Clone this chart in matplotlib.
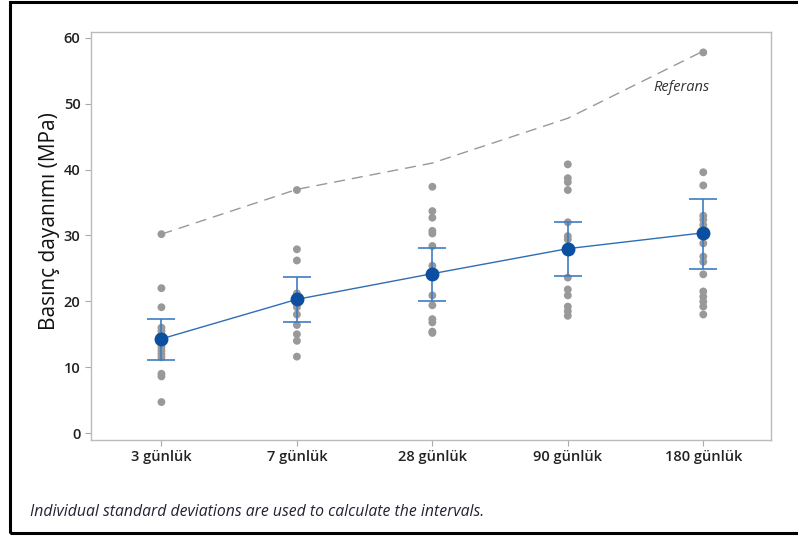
import numpy as np
import matplotlib
matplotlib.use("Agg")
import matplotlib.pyplot as plt
from matplotlib.patches import Rectangle

plt.rcParams['font.family'] = ['Open Sans', 'DejaVu Sans']

# veriler
categories = ["3 günlük", "7 günlük", "28 günlük", "90 günlük", "180 günlük"]
g3 = [30.2, 22.0, 19.1, 16.0, 15.5, 15.0, 14.5, 14.0, 13.5, 13.0, 12.5, 12.0, 11.5, 9.0, 8.6, 4.7]
g7 = [36.9, 27.9, 26.2, 21.2, 20.6, 20.0, 19.1, 18.0, 16.4, 15.0, 14.0, 11.6]
g28 = [37.4, 33.7, 32.7, 30.7, 30.3, 28.4, 25.4, 20.9, 19.4, 17.3, 16.8, 15.4, 15.2]
g90 = [40.8, 38.7, 38.1, 36.9, 32.0, 29.9, 29.4, 23.6, 21.8, 20.9, 19.2, 18.5, 17.8]
g180 = [57.8, 39.6, 37.6, 33.0, 32.4, 31.6, 28.8, 26.8, 26.0, 24.1, 21.5, 20.7, 19.95, 19.2, 18.0]
groups = [g3, g7, g28, g90, g180]

means = [14.3, 20.3, 24.2, 28.0, 30.4]
ci_low = [11.1, 16.8, 20.1, 23.9, 24.9]
ci_high = [17.3, 23.7, 28.1, 32.1, 35.6]
referans = [30.2, 37.0, 41.0, 47.8, 58.0]

fig = plt.figure(figsize=(7.98, 5.36), dpi=100)
ax = fig.add_axes([91 / 798, 1 - 440 / 536, 680 / 798, 408 / 536])

x = np.arange(len(categories))

# referans çizgisi
ax.plot(x, referans, ls=(0, (8, 5)), color="#999999", lw=1, zorder=1)

# bireysel noktalar
for i, g in enumerate(groups):
    ax.scatter(np.full(len(g), x[i]), g, s=32, color="#999999", edgecolors="none", zorder=2)

# güven aralıkları
means_a = np.array(means)
yerr = [means_a - np.array(ci_low), np.array(ci_high) - means_a]
ax.errorbar(x, means, yerr=yerr, fmt="none", ecolor="#3F7CC2", elinewidth=1.2,
            capsize=10, capthick=1.2, zorder=3)
ax.plot(x, means, color="#2F6DB5", lw=1, zorder=3)
ax.plot(x, means, "o", color="#0A4FA0", ms=9, zorder=4)

ax.text(3.63, 52.4, "Referans", style="italic", fontsize=10.5, color="#333333", va="center")

ax.set_xlim(-0.52, 4.5)
ax.set_ylim(-1.06, 60.9)
ax.set_yticks(range(0, 61, 10))
ax.set_xticks(x)
ax.set_xticklabels(categories)
for lab in ax.get_xticklabels() + ax.get_yticklabels():
    lab.set_fontweight("semibold")
    lab.set_fontsize(10.5)
    lab.set_color("#222222")
ax.tick_params(length=4, color="#AAAAAA", width=0.8)
for s in ax.spines.values():
    s.set_color("#BBBBBB")
    s.set_linewidth(1)
ax.set_ylabel("Basınç dayanımı (MPa)", fontsize=15, color="#111111")
ax.yaxis.set_label_coords(-0.046, 0.537)

fig.text(30 / 798, 1 - 512 / 536, "Individual standard deviations are used to calculate the intervals.",
         style="italic", fontsize=11.3, color="#222233", va="center")

# dış çerçeve
fig.patches.append(Rectangle((10 / 798, 1 - 533 / 536), 1.0, 531 / 536, transform=fig.transFigure,
                             fill=False, edgecolor="black", lw=2.2))

fig.savefig("out.png", dpi=100)
